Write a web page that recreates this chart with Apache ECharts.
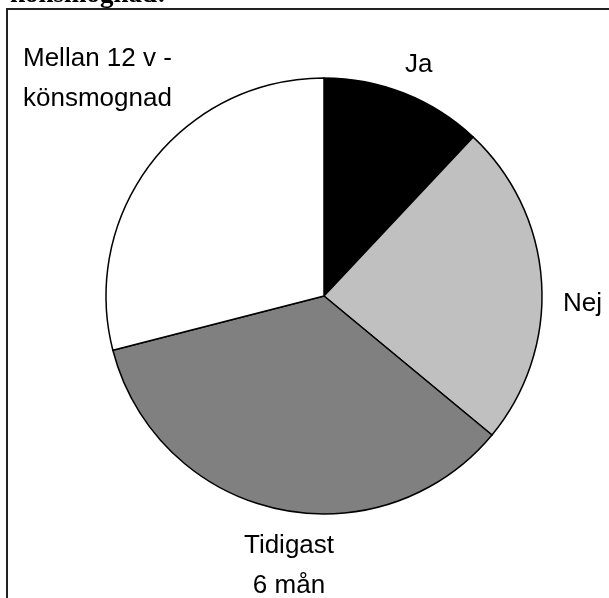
<!DOCTYPE html>
<html>
<head>
<meta charset="utf-8">
<script src="https://cdn.jsdelivr.net/npm/echarts@6/dist/echarts.min.js"></script>
<style>
html,body{margin:0;padding:0;background:#fff;}
#chart{width:609px;height:598px;}
</style>
</head>
<body>
<div id="chart"></div>
<script>
const titleText = 'könsmognad:';
const categories = ['Ja', 'Nej', 'Tidigast\n6 mån', 'Mellan 12 v -\nkönsmognad'];
const values = [12, 24, 35, 29];
const sliceColors = ['#000000', '#c0c0c0', '#808080', '#ffffff'];

const chart = echarts.init(document.getElementById('chart'), null, {renderer: 'canvas'});

// label anchor placement (text positions only)
const labelPos = [
  {x: 405, y: 65, align: 'left'},
  {x: 563, y: 304, align: 'left'},
  {x: 289, y: 566, align: 'center'},
  {x: 23, y: 79, align: 'left'}
];

chart.setOption({
  animation: false,
  backgroundColor: '#fff',
  graphic: [
    {
      type: 'text', silent: true, x: 10, y: 9,
      style: {text: titleText, verticalAlign: 'bottom', lineHeight: 27,
        font: 'bold 27px "Liberation Serif", "Times New Roman", serif', fill: '#000'}
    },
    {
      type: 'polyline', silent: true,
      shape: {points: [[7, 640], [7, 9], [640, 9]]},
      style: {stroke: '#222', lineWidth: 2, fill: null}
    }
  ].concat(categories.map((c, i) => ({
    type: 'text', silent: true,
    x: labelPos[i].x, y: labelPos[i].y,
    style: {text: c, align: labelPos[i].align, verticalAlign: 'middle',
      font: '26px "Liberation Sans", Arial, sans-serif', fill: '#000', lineHeight: 40}
  }))),
  series: [{
    type: 'pie',
    center: [324, 296],
    radius: [0, 218],
    startAngle: 90,
    clockwise: true,
    label: {show: false},
    labelLine: {show: false},
    itemStyle: {borderColor: '#000', borderWidth: 1.5},
    emphasis: {disabled: true},
    data: categories.map((c, i) => ({name: c, value: values[i], itemStyle: {color: sliceColors[i]}}))
  }]
});
</script>
</body>
</html>
